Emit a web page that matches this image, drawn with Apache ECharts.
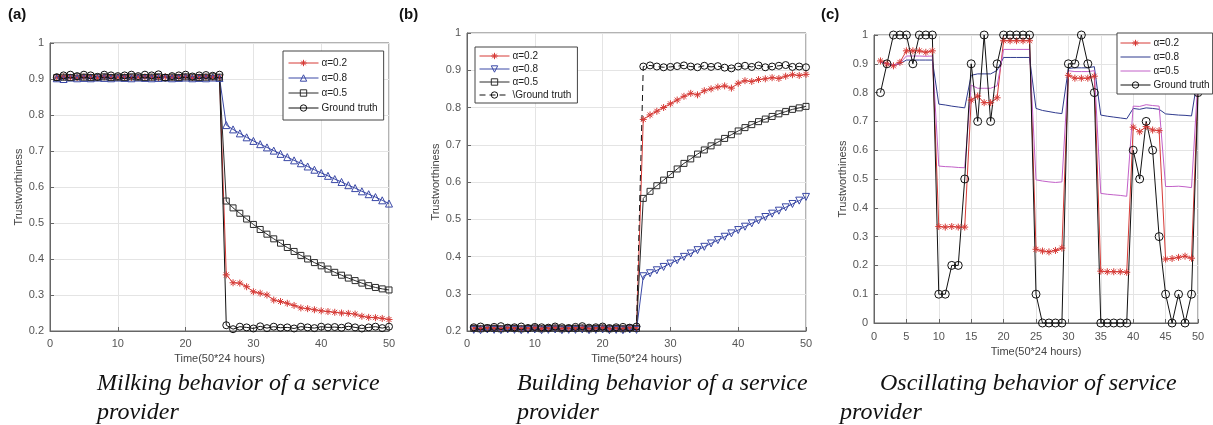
<!DOCTYPE html>
<html>
<head>
<meta charset="utf-8">
<script src="https://cdn.jsdelivr.net/npm/echarts@6/dist/echarts.min.js"></script>
<style>
html,body{margin:0;padding:0;background:#fff;}
#chart{width:1213px;height:425px;}
</style>
</head>
<body>
<div id="chart"></div>
<script>
// ---------- DATA ----------
const timeSteps = [1,2,3,4,5,6,7,8,9,10,11,12,13,14,15,16,17,18,19,20,21,22,23,24,25,26,27,28,29,30,31,32,33,34,35,36,37,38,39,40,41,42,43,44,45,46,47,48,49,50];

// (a) Milking behaviour
const milkAlpha02 = [0.905,0.906,0.905,0.904,0.906,0.905,0.904,0.906,0.905,0.905,0.906,0.904,0.905,0.906,0.905,0.904,0.906,0.905,0.905,0.906,0.904,0.905,0.906,0.905,0.905,
  0.356,0.334,0.333,0.323,0.309,0.305,0.300,0.286,0.282,0.277,0.271,0.264,0.262,0.259,0.256,0.254,0.252,0.250,0.249,0.247,0.241,0.238,0.237,0.235,0.232];
const milkAlpha08 = [0.902,0.900,0.904,0.902,0.903,0.902,0.904,0.903,0.902,0.904,0.903,0.902,0.904,0.903,0.902,0.903,0.904,0.902,0.903,0.904,0.902,0.903,0.902,0.904,0.903,
  0.772,0.760,0.749,0.738,0.728,0.719,0.710,0.701,0.692,0.683,0.674,0.666,0.657,0.648,0.639,0.631,0.622,0.614,0.605,0.597,0.588,0.580,0.572,0.563,0.554];
const milkAlpha05 = [0.904,0.905,0.904,0.906,0.905,0.904,0.905,0.906,0.904,0.905,0.904,0.906,0.905,0.904,0.905,0.906,0.904,0.905,0.904,0.906,0.905,0.904,0.905,0.906,0.905,
  0.561,0.542,0.527,0.511,0.496,0.482,0.469,0.456,0.444,0.432,0.421,0.410,0.400,0.390,0.381,0.372,0.363,0.355,0.347,0.340,0.333,0.326,0.321,0.317,0.314];
const milkTruth = [0.905,0.910,0.912,0.908,0.912,0.910,0.906,0.912,0.910,0.908,0.910,0.912,0.908,0.912,0.910,0.913,0.904,0.908,0.910,0.912,0.907,0.910,0.911,0.909,0.912,
  0.216,0.205,0.212,0.210,0.207,0.213,0.208,0.212,0.209,0.210,0.207,0.212,0.210,0.208,0.212,0.210,0.211,0.209,0.213,0.210,0.207,0.210,0.212,0.208,0.212];

// (b) Building behaviour
const buildAlpha02 = [0.208,0.207,0.209,0.208,0.207,0.209,0.208,0.207,0.208,0.209,0.207,0.208,0.209,0.207,0.208,0.208,0.209,0.207,0.208,0.209,0.207,0.208,0.207,0.209,0.208,
  0.768,0.780,0.790,0.800,0.810,0.820,0.830,0.838,0.834,0.845,0.850,0.855,0.858,0.852,0.865,0.872,0.870,0.875,0.877,0.880,0.878,0.884,0.888,0.886,0.889];
const buildAlpha08 = [0.203,0.202,0.204,0.203,0.202,0.204,0.203,0.202,0.203,0.204,0.202,0.203,0.204,0.202,0.203,0.203,0.204,0.202,0.203,0.204,0.202,0.203,0.202,0.204,0.203,
  0.347,0.355,0.363,0.372,0.381,0.390,0.399,0.408,0.417,0.426,0.435,0.444,0.453,0.462,0.471,0.480,0.489,0.497,0.506,0.515,0.523,0.532,0.541,0.550,0.560];
const buildAlpha05 = [0.207,0.206,0.208,0.207,0.206,0.208,0.207,0.206,0.207,0.208,0.206,0.207,0.208,0.206,0.207,0.207,0.208,0.206,0.207,0.208,0.206,0.207,0.206,0.208,0.207,
  0.556,0.575,0.590,0.605,0.620,0.635,0.650,0.662,0.675,0.686,0.697,0.707,0.717,0.727,0.737,0.746,0.754,0.762,0.769,0.776,0.783,0.789,0.795,0.799,0.803];
const buildTruth = [0.210,0.212,0.208,0.211,0.213,0.209,0.210,0.212,0.208,0.211,0.210,0.209,0.212,0.210,0.208,0.211,0.213,0.209,0.210,0.212,0.208,0.210,0.211,0.209,0.212,
  0.910,0.913,0.910,0.908,0.909,0.911,0.913,0.910,0.908,0.912,0.909,0.911,0.907,0.905,0.910,0.912,0.909,0.913,0.908,0.910,0.912,0.914,0.909,0.910,0.908];

// (c) Oscillating behaviour
const oscAlpha02 = [0.910,0.900,0.893,0.905,0.945,0.945,0.945,0.940,0.945, 0.335,0.333,0.335,0.333,0.333, 0.774,0.788,0.765,0.765,0.782, 0.980,0.980,0.980,0.980,0.980,
  0.256,0.250,0.247,0.252,0.260, 0.860,0.850,0.850,0.850,0.857, 0.180,0.178,0.178,0.178,0.176, 0.680,0.664,0.682,0.670,0.668, 0.222,0.224,0.228,0.232,0.225, 0.820];
const oscAlpha08 = [0.905,0.900,0.895,0.900,0.913,0.913,0.913,0.913,0.913, 0.760,0.757,0.753,0.750,0.747, 0.860,0.865,0.865,0.865,0.877, 0.922,0.922,0.922,0.922,0.922,
  0.745,0.738,0.734,0.730,0.727, 0.884,0.886,0.886,0.886,0.890, 0.722,0.718,0.715,0.712,0.709, 0.745,0.742,0.747,0.745,0.742, 0.726,0.724,0.722,0.721,0.719, 0.860];
const oscAlpha05 = [0.907,0.900,0.895,0.902,0.927,0.927,0.927,0.926,0.927, 0.545,0.543,0.542,0.540,0.539, 0.826,0.815,0.815,0.815,0.824, 0.950,0.950,0.950,0.950,0.950,
  0.497,0.493,0.490,0.488,0.490, 0.876,0.873,0.873,0.873,0.876, 0.450,0.447,0.445,0.443,0.440, 0.753,0.752,0.758,0.755,0.753, 0.474,0.474,0.475,0.473,0.470, 0.850];
const oscTruth = [0.8,0.9,1,1,1,0.9,1,1,1, 0.1,0.1,0.2,0.2,0.5, 0.9,0.7,1,0.7,0.9, 1,1,1,1,1,
  0.1,0,0,0,0, 0.9,0.9,1,0.9,0.8, 0,0,0,0,0, 0.6,0.5,0.7,0.6,0.3, 0.1,0,0.1,0,0.1, 0.8];

const legendNamesA = ['α=0.2','α=0.8','α=0.5','Ground truth'];
const legendNamesB = ['α=0.2\u200b','α=0.8\u200b','α=0.5\u200b','\\Ground truth'];
const legendNamesC = ['α=0.2\u200b\u200b','α=0.8\u200b\u200b','α=0.5\u200b\u200b','Ground truth\u200b'];

const panelLabels = ['(a)','(b)','(c)'];
const captions = [
  ['Milking behavior of a service','provider'],
  ['Building behavior of a service','provider'],
  ['Oscillating behavior of service','provider']
];
const xAxisTitle = 'Time(50*24 hours)';
const yAxisTitle = 'Trustworthiness';

// ---------- STYLE ----------
const RED = '#d63a36', BLUE = '#3a48a6', DARK = '#2a2a2a', NAVY = '#2f3a8e', MAGENTA = '#c260c8';
const ASTERISK = 'path://M10,0L10,20M0,10L20,10M3,3L17,17M3,17L17,3';
const pairs = ys => timeSteps.map((x, i) => [x, ys[i]]);

function line(name, gi, ys, color, symbol, size, extra) {
  const s = {
    type: 'line', name, xAxisIndex: gi, yAxisIndex: gi,
    data: pairs(ys), symbol: symbol, symbolSize: size, showAllSymbol: true,
    lineStyle: { color, width: 1 },
    itemStyle: { color: 'rgba(0,0,0,0)', borderColor: color, borderWidth: 1 },
    emphasis: { disabled: true }, animation: false, clip: false
  };
  return Object.assign(s, extra || {});
}

const series = [
  line(legendNamesA[0], 0, milkAlpha02, RED, ASTERISK, 7),
  line(legendNamesA[1], 0, milkAlpha08, BLUE, 'triangle', 7),
  line(legendNamesA[2], 0, milkAlpha05, DARK, 'rect', 6),
  line(legendNamesA[3], 0, milkTruth, '#111', 'circle', 7),

  line(legendNamesB[0], 1, buildAlpha02, RED, ASTERISK, 7),
  line(legendNamesB[1], 1, buildAlpha08, BLUE, 'triangle', 7, {symbolRotate: 180}),
  line(legendNamesB[2], 1, buildAlpha05, DARK, 'rect', 6),
  line(legendNamesB[3], 1, buildTruth, '#111', 'circle', 7, {lineStyle: {color: '#111', width: 1, type: [6, 4]}}),

  line(legendNamesC[0], 2, oscAlpha02, RED, ASTERISK, 7),
  line(legendNamesC[1], 2, oscAlpha08, NAVY, 'none', 0),
  line(legendNamesC[2], 2, oscAlpha05, MAGENTA, 'none', 0),
  line(legendNamesC[3], 2, oscTruth, '#111', 'circle', 8)
];

const grids = [
  { left: 50, top: 43, width: 339, height: 288 },
  { left: 467, top: 33, width: 339, height: 298 },
  { left: 874, top: 35, width: 324, height: 288 }
];
grids.forEach(g => { g.show = true; g.borderColor = '#666'; g.borderWidth = 1; g.backgroundColor = '#fff'; });

const axisFont = { color: '#555', fontSize: 11, fontFamily: 'Liberation Sans, Arial, sans-serif' };
function xAx(gi, interval, labelMargin, nameGap) {
  return {
    type: 'value', gridIndex: gi, min: 0, max: 50, interval,
    axisLine: { show: true, lineStyle: { color: '#666' } },
    axisTick: { inside: true, length: 4, lineStyle: { color: '#666' } },
    axisLabel: Object.assign({ margin: labelMargin }, axisFont),
    splitLine: { show: true, lineStyle: { color: '#e4e4e4' } },
    name: xAxisTitle, nameLocation: 'middle', nameGap,
    nameTextStyle: { color: '#444', fontSize: 11, fontFamily: 'Liberation Sans, Arial, sans-serif' }
  };
}
function yAx(gi, min, nameGap) {
  return {
    type: 'value', gridIndex: gi, min, max: 1, interval: 0.1,
    axisLine: { show: true, lineStyle: { color: '#666' } },
    axisTick: { inside: true, length: 4, lineStyle: { color: '#666' } },
    axisLabel: Object.assign({ margin: 6, formatter: v => String(+v.toFixed(1)) }, axisFont),
    splitLine: { show: true, lineStyle: { color: '#e4e4e4' } },
    name: yAxisTitle, nameLocation: 'middle', nameGap, nameRotate: 90,
    nameTextStyle: { color: '#444', fontSize: 11, fontFamily: 'Liberation Sans, Arial, sans-serif' }
  };
}

const HIDDEN_MARK = { color: 'rgba(0,0,0,0)', borderColor: 'rgba(0,0,0,0)', borderWidth: 0, opacity: 0 };
function legend(items, left, top, gap, padding) {
  return {
    data: items, orient: 'vertical', left, top, itemWidth: 30, itemHeight: 8, itemGap: gap,
    padding, borderColor: '#444', borderWidth: 1, backgroundColor: '#fff',
    selectedMode: false, z: 10,
    itemStyle: { borderWidth: 1 },
    lineStyle: { width: 1 },
    formatter: n => n.replace(/\u200b/g, ''),
    textStyle: { color: '#222', fontSize: 10, fontFamily: 'Liberation Sans, Arial, sans-serif', padding: [0, 0, 0, -2] }
  };
}
const legendItemsC = [
  { name: legendNamesC[0] },
  { name: legendNamesC[1], itemStyle: HIDDEN_MARK },
  { name: legendNamesC[2], itemStyle: HIDDEN_MARK },
  { name: legendNamesC[3] }
];

const graphics = [];
const labelX = [8, 399, 821];
panelLabels.forEach((t, i) => graphics.push({
  type: 'text', left: labelX[i], top: 7,
  style: { text: t, font: 'bold 15px "Liberation Sans", Arial, sans-serif', fill: '#111' }
}));
const capX = [[97, 97], [517, 517], [880, 840]];
captions.forEach((lines, i) => lines.forEach((t, j) => graphics.push({
  type: 'text', left: capX[i][j], top: 372 + j * 29,
  style: { text: t, font: 'italic 24px "Liberation Serif", "Times New Roman", serif', fill: '#111' }
})));

const chart = echarts.init(document.getElementById('chart'), null, { renderer: 'canvas' });
chart.setOption({
  backgroundColor: '#fff',
  animation: false,
  grid: grids,
  xAxis: [xAx(0, 10, 7, 20), xAx(1, 10, 7, 20), xAx(2, 5, 8, 23)],
  yAxis: [yAx(0, 0.2, 17), yAx(1, 0.2, 18), yAx(2, 0, 18)],
  legend: [
    legend(legendNamesA, 283, 51, 5, [7, 6, 7, 5]),
    legend(legendNamesB, 475, 47, 3, [4, 6, 3, 4]),
    legend(legendItemsC, 1117, 33, 4, [5, 3, 4, 3])
  ],
  graphic: graphics,
  series
});
</script>
</body>
</html>
